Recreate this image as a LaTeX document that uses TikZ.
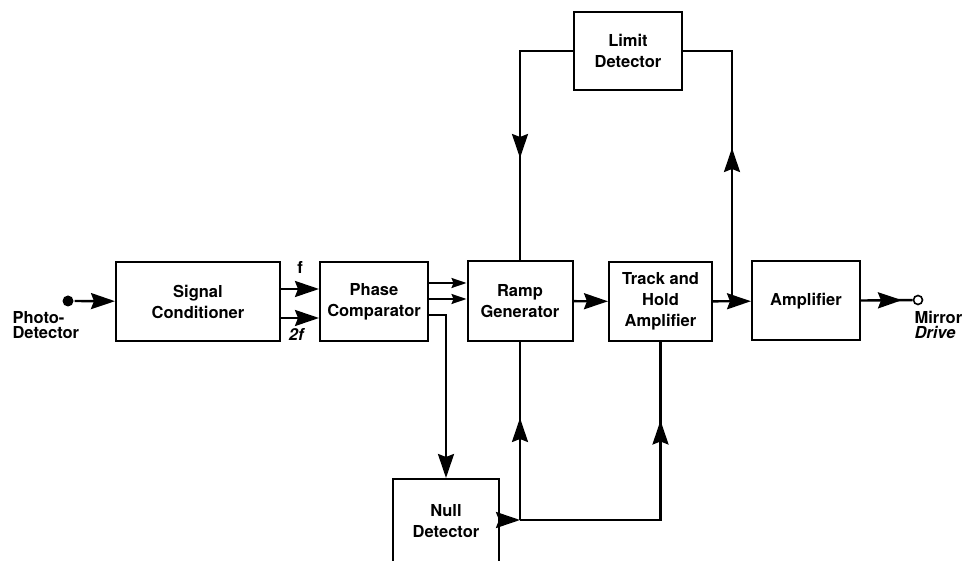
\documentclass[tikz,border=0pt]{standalone}
\usepackage{fontspec}
\setmainfont{TeX Gyre Heros}
\usetikzlibrary{arrows.meta, positioning, decorations.markings}

\begin{document}
\begin{tikzpicture}[x=1pt,y=-1pt,
  big tip/.tip={Stealth[length=24pt,width=16pt,inset=3pt]},
  little tip/.tip={Stealth[length=15pt,width=10pt,inset=2pt]},
  -big tip, line width=2.4pt,
  block/.style={rectangle,draw,line width=2pt,align=center,
  font=\fontsize{16.5}{21}\selectfont\bfseries,minimum height=79pt},
  small tip/.style={-little tip,line width=1.8pt},
  mid arrow/.style={-,postaction={decorate},decoration={markings,
  mark=at position #1 with {\arrow{big tip}}}},
  lbl/.style={font=\fontsize{16.5}{15}\selectfont\bfseries,align=left}]
  \useasboundingbox (0,0) rectangle (962,561);

  \node[block, minimum width=164pt] (cond) at (198,301.5) {Signal\\Conditioner};
  \node[block, minimum width=108pt] (comp) at (374,301.5) {Phase\\Comparator};
  \node[block, minimum width=105pt, minimum height=80pt] (ramp) at (520,301) {Ramp\\Generator};
  \node[block, minimum width=103pt] (hold) at (660.5,301.5) {Track and\\Hold\\Amplifier};
  \node[block, minimum width=108pt] (amp) at (806,301) {Amplifier};
  \node[block, minimum width=108pt, minimum height=78pt] (lim) at (628,51) {Limit\\Detector};
  \node[block, minimum width=106pt, minimum height=110pt, text depth=26pt] (null) at (446,534) {Null\\Detector};

  \node[circle,fill,inner sep=0pt,minimum size=11pt] (pd) at (68,301) {};
  \node[circle,draw,line width=1.6pt,inner sep=0pt,minimum size=9pt] (md) at (918,300) {};
  \node[lbl, anchor=west] (pdlbl) at (8,325) {Photo-\\Detector};
  \node[lbl, anchor=west] (mdlbl) at (910,325) {Mirror\\\textit{Drive}};
  \node[lbl] (flbl) at (300,267) {f};
  \node[lbl] (tflbl) at (297,334) {\textit{2f}};

  \coordinate (j1) at (732,300);
  \coordinate (j2) at (ramp.south |- 0,520);

  \path
     (pd) edge (cond)
     ([yshift=12.5pt]cond.east) edge ([yshift=12.5pt]comp.west)
     ([yshift=-16.5pt]cond.east) edge ([yshift=-16.5pt]comp.west)
     (ramp) edge (hold)
     (hold) edge (amp)
     (null.east |- j2) edge (j2);
  \path[small tip]
     ([yshift=18.5pt]comp.east) edge ([yshift=18.5pt]comp.east -| ramp.west)
     ([yshift=2.5pt]comp.east) edge ([yshift=2.5pt]comp.east -| ramp.west);
  \draw ([yshift=-13.5pt]comp.east) -| (null.north);

  \draw[mid arrow=41pt] (amp) -- (md);
  \draw[mid arrow=152pt] (j1) |- (lim.east);
  \draw[mid arrow=160pt] (lim.west) -| (ramp.north);
  \draw[mid arrow=102pt] (j2) -- (ramp.south);
  \draw[mid arrow=240pt] (j2) -| (hold.south);
\end{tikzpicture}
\end{document}
